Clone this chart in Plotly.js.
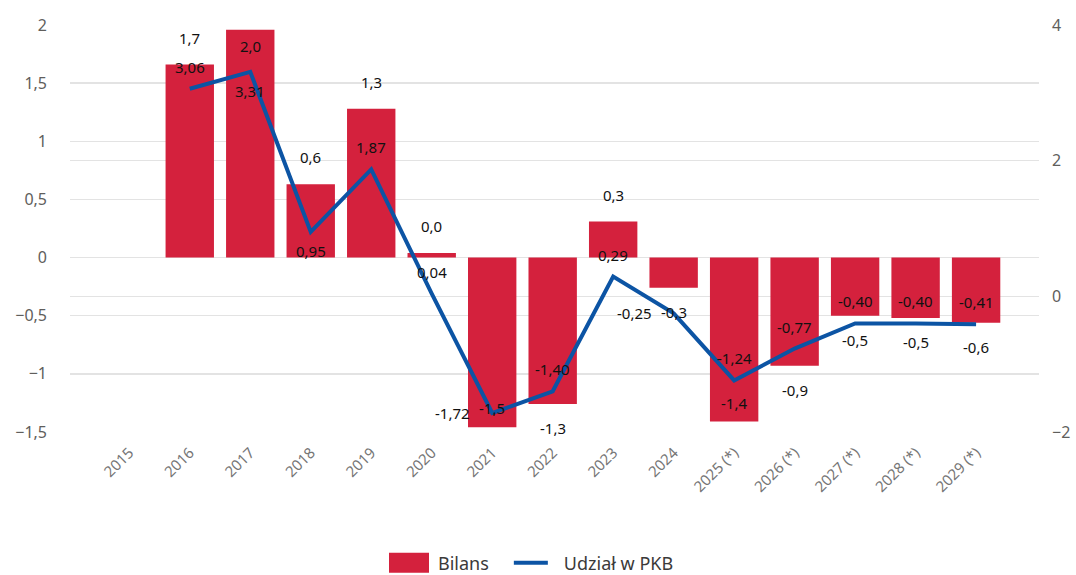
<!DOCTYPE html>
<html>
<head>
<meta charset="utf-8">
<script src="https://cdn.plot.ly/plotly-3.0.1.min.js"></script>
<style>html,body{margin:0;padding:0;background:#fff;}#chart{width:1076px;height:575px;}</style>
</head>
<body>
<div id="chart"></div>
<script>
const years = ['2015','2016','2017','2018','2019','2020','2021','2022','2023','2024','2025 (*)','2026 (*)','2027 (*)','2028 (*)','2029 (*)'];
const bilans = [null, 1.66, 1.96, 0.63, 1.28, 0.04, -1.46, -1.26, 0.31, -0.26, -1.41, -0.93, -0.50, -0.52, -0.56];
const udzialPKB = [null, 3.06, 3.31, 0.95, 1.87, 0.04, -1.72, -1.40, 0.29, -0.25, -1.24, -0.77, -0.40, -0.40, -0.41];

// label placement styles (not data)
const bilansLabelPos = ['out','out','in','out','out','out','in','out','out','out','in','out','out','out','out'];
const udzialLabelPos = ['top','top','bottom','bottom','top','top','left','top','top','left','top','top','top','top','top'];

const fmt = (v, d) => v.toFixed(d).replace('.', ',');
const FONT = 'Noto Sans, Open Sans, sans-serif';
const LABEL_FONT = {family: FONT, size: 15, color: '#111'};

const traces = [
  {
    type: 'bar', name: 'Bilans', x: years, y: bilans, yaxis: 'y',
    marker: {color: '#d4213d'}, hoverinfo: 'skip'
  },
  {
    type: 'scatter', mode: 'lines', name: 'Udział w PKB', x: years, y: udzialPKB, yaxis: 'y2',
    line: {color: '#0c54a4', width: 4}, hoverinfo: 'skip'
  }
];

// on a category axis, annotations are positioned by category index
const annotations = [];
bilans.forEach((v, i) => {
  if (v === null) return;
  let shift;
  if (bilansLabelPos[i] === 'out') shift = v >= 0 ? 27 : -24;
  else shift = v >= 0 ? -16 : 19;
  annotations.push({x: i, y: v, xref: 'x', yref: 'y', text: fmt(v, 1), showarrow: false,
    yshift: shift, font: LABEL_FONT});
});
udzialPKB.forEach((v, i) => {
  if (v === null) return;
  const p = udzialLabelPos[i];
  const a = {x: i, y: v, xref: 'x', yref: 'y2', text: fmt(v, 2), showarrow: false, font: LABEL_FONT};
  if (p === 'top') a.yshift = 22;
  else if (p === 'bottom') a.yshift = -19;
  else { a.xanchor = 'right'; a.xshift = -20; }
  annotations.push(a);
});

const layout = {
  width: 1076, height: 575,
  margin: {l: 70, r: 37, t: 25, b: 143, autoexpand: false},
  paper_bgcolor: '#fff', plot_bgcolor: '#fff',
  separators: ', ',
  font: {family: FONT, size: 14, color: '#605e5c'},
  bargap: 0.2,
  showlegend: true,
  legend: {orientation: 'h', x: 388 / 1076, xanchor: 'left', xref: 'container',
    y: 0.021, yanchor: 'middle', yref: 'container', itemwidth: 40,
    bgcolor: 'rgba(0,0,0,0)',
    font: {family: FONT, size: 18, color: '#3b3a39'}},
  xaxis: {
    type: 'category', range: [-0.98, 15.04], tickangle: -45, showgrid: false, zeroline: false,
    showline: false, ticks: '', ticklabelstandoff: 8,
    tickfont: {family: FONT, size: 15, color: '#767676'}
  },
  yaxis: {
    range: [-1.5, 2], dtick: 0.5, showgrid: true, gridcolor: '#e3e3e3', gridwidth: 1.5,
    zeroline: false, showline: false, ticks: '', ticklabelstandoff: 22,
    tickfont: {family: FONT, size: 16, color: '#605e5c'}
  },
  yaxis2: {
    range: [-2, 4], dtick: 2, overlaying: 'y', side: 'right', showgrid: true, gridcolor: '#e3e3e3', gridwidth: 1.5,
    zeroline: false, showline: false, ticks: '', ticklabelstandoff: 12,
    tickfont: {family: FONT, size: 16, color: '#605e5c'}
  },
  annotations: annotations
};

Plotly.newPlot('chart', traces, layout, {displayModeBar: false, staticPlot: true}).then(gd => {
  // enlarge the legend swatches and widen the gap between entries, like the reference legend
  gd.querySelectorAll('.legend, .legend [clip-path]').forEach(e => e.removeAttribute('clip-path'));
  const items = gd.querySelectorAll('.legend .traces');
  items.forEach((t, k) => {
    const lines = t.querySelector('.legendlines path');
    const bar = t.querySelector('.legendpoints path');
    if (lines) {
      lines.setAttribute('d', 'M0,0h34');
    } else if (bar) {
      bar.setAttribute('d', 'M16,10H-24V-10H16Z');
    }
    if (k > 0) {
      const tr = t.getAttribute('transform') || '';
      const m = tr.match(/translate\(\s*([-\d.e]+)[ ,]+([-\d.e]+)\s*\)/);
      if (m) t.setAttribute('transform', 'translate(' + (parseFloat(m[1]) + 20 * k) + ',' + m[2] + ')');
    }
  });
});
</script>
</body>
</html>
